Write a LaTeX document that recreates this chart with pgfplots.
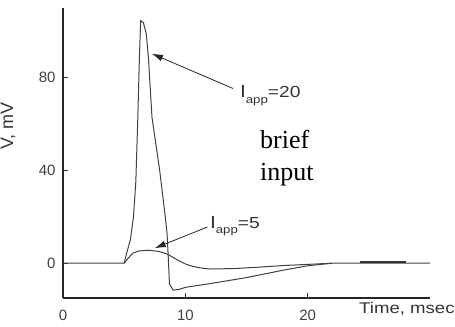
\documentclass[border=0pt]{standalone}
\usepackage{fontspec}
\setmainfont{Liberation Sans}
\newfontfamily\seriffont{Liberation Serif}
\usepackage{pgfplots}
\pgfplotsset{compat=1.18}
\usetikzlibrary{arrows.meta}
\newcommand{\Iapp}[1]{\scalebox{1.2}[1]{{\fontsize{17.5}{18}\selectfont I}\raisebox{-0.55em}{\fontsize{11}{11}\selectfont app}{\fontsize{16}{16}\selectfont =#1}}}
\begin{document}
\begin{tikzpicture}
\begin{axis}[
  scale only axis, width=367pt, height=290pt,
  xmin=0, xmax=30, ymin=-15, ymax=110,
  axis lines=left,
  axis line style={-, line width=1.2pt, black!85},
  xtick={0,10,20}, ytick={0,40,80},
  tick align=inside, major tick length=5pt,
  tick style={black!80, line width=0.8pt},
  ticklabel style={font=\fontsize{15}{17}\selectfont, text=black!75},
  /pgf/number format/assume math mode=true,
  xticklabel style={yshift=-8pt},
  yticklabel style={xshift=-4pt},
  xlabel={\scalebox{1.2}[1]{Time, msec}}, ylabel={V, mV},
  xlabel style={at={(axis description cs:0.937,-0.055)}, anchor=base, font=\fontsize{15.5}{17}\selectfont, text=black!80},
  ylabel style={at={(axis description cs:-0.15,0.593)}, anchor=center, font=\fontsize{18}{20}\selectfont, text=black!80},
  clip=false,
]
% I_app = 20
\addplot[black!75, line width=1pt] coordinates {
 (0,0) (5,0) (5.2,4.3) (5.5,10) (5.76,20) (5.95,35) (6.1,60) (6.25,90) (6.35,104.5) (6.57,103.7) (6.8,99) (6.99,88) (7.27,63) (7.9,40) (8.36,20) (8.5,13) (8.6,3) (8.7,-9) (9.0,-11.6) (9.5,-11.3) (10,-10.4) (12,-8.8) (15,-6.2) (18,-3) (20,-1.1) (22,0) (30,0)
};
% I_app = 5
\addplot[black!75, line width=1pt] coordinates {
 (5,0) (5.3,2) (5.7,4.3) (6.2,5.3) (7,5.6) (7.8,5.1) (8.5,4) (9,2.5) (9.5,1) (10,-0.3) (10.5,-1.2) (11,-1.8) (11.5,-2.2) (12,-2.5) (14,-2.3) (16,-1.7) (18,-1) (20,-0.5) (22,0)
};
% thick segment
\addplot[black!80, line width=2pt] coordinates {(24.3,0.6) (28,0.6)};
\draw[-{Latex[length=11pt,width=7pt]}, line width=0.8pt, black!85] (axis cs:13.9,75.3) -- (axis cs:7.27,90.3);
\draw[-{Latex[length=11pt,width=7pt]}, line width=0.8pt, black!85] (axis cs:11.8,15.6) -- (axis cs:7.5,6.5);
\node[anchor=base west, inner sep=0pt, text=black!80] at (axis cs:14.45,71.4) {\Iapp{20}};
\node[anchor=base west, inner sep=0pt, text=black!80] at (axis cs:12.0,15) {\Iapp{5}};
\node[anchor=base west, inner sep=0pt, font=\seriffont\fontsize{26}{28}\selectfont] at (axis cs:16.1,49.5) {brief};
\node[anchor=base west, inner sep=0pt, font=\seriffont\fontsize{26}{28}\selectfont] at (axis cs:16.1,35.7) {input};
\coordinate (bl) at (rel axis cs:-0.1717,-0.0966);
\coordinate (tr) at (rel axis cs:1.068,1.0276);
\end{axis}
\pgfresetboundingbox
\useasboundingbox (bl) rectangle (tr);
\end{tikzpicture}
\end{document}
